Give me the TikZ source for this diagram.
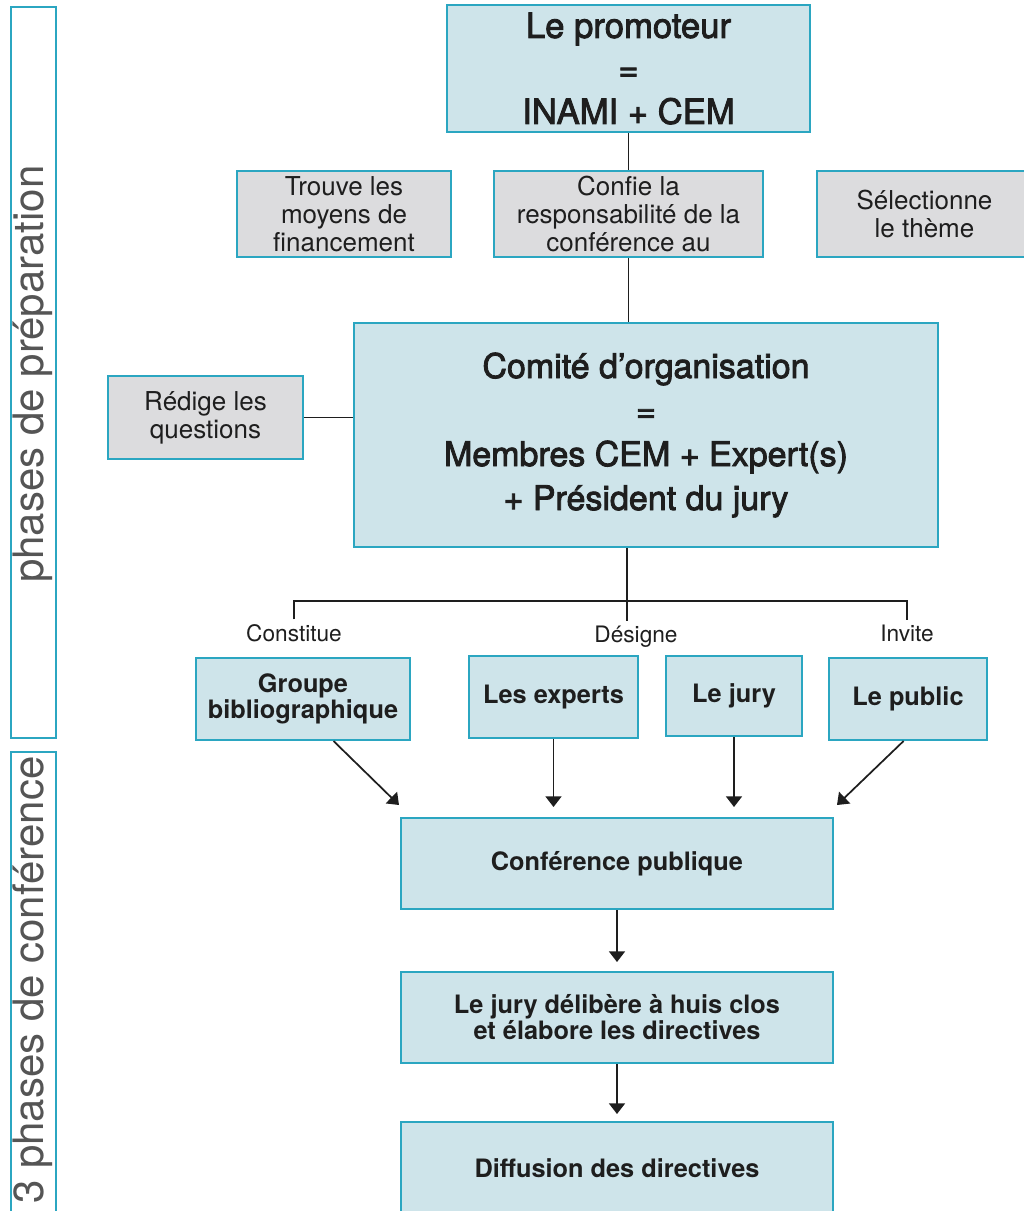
\documentclass[tikz,border=0pt]{standalone}
\usepackage{fontspec}
\setmainfont{TeX Gyre Heros}
\newfontfamily\cemmedium[FakeBold=2.5]{TeX Gyre Heros}
\usetikzlibrary{arrows.meta,calc}

\definecolor{cemblue}{RGB}{206,228,234}
\definecolor{cemgray}{RGB}{220,220,222}
\definecolor{cemcyan}{RGB}{43,166,193}
\definecolor{cemtext}{RGB}{30,30,30}
\definecolor{cemphase}{RGB}{85,85,85}

\newcommand\cemtitle{\cemmedium\fontsize{26}{32.25}\selectfont}
\newcommand\cemcomite{\cemmedium\fontsize{25.5}{33}\selectfont}
\newcommand\cemnote{\fontsize{19.5}{21}\selectfont}
\newcommand\cemstep{\bfseries\fontsize{19}{17.5}\selectfont}

\tikzset{every picture/.style={line width=0.75pt}}
\tikzset{
  bluebox/.style={draw=cemcyan, fill=cemblue, line width=1.5pt, align=center, text=cemtext, inner sep=0pt},
  graybox/.style={bluebox, fill=cemgray, font=\cemnote},
  phasebox/.style={draw=cemcyan, line width=1.5pt, inner sep=0pt},
  conn/.style={draw=cemtext, line width=1.2pt},
  arr/.style={conn, line width=1.3pt, -{Triangle[width=12pt,length=8pt]}},
  verb/.style={text=cemtext, font=\fontsize{17}{20}\selectfont},
  phaselabel/.style={text=cemphase, font=\fontsize{31.5}{36}\selectfont, inner sep=0pt, rotate=90, anchor=base east}
}

\begin{document}
\begin{tikzpicture}[x=0.75pt,y=0.75pt,yscale=-1,xscale=1]
\useasboundingbox (0,0) rectangle (1024,1211);
\clip (0,0) rectangle (1024,1211);

%Phases
\node[phasebox, minimum width=33.75pt, minimum height=548.25pt] (phaseprep) at (33.5,372.5) {};
\node[phasebox, minimum width=33.75pt, minimum height=351pt] (phaseconf) at (33.5,986) {};
\node[phaselabel] (lblprep) at (43,165) {phases de préparation};
\node[phaselabel] (lblconf) at (43,756) {3 phases de conférence};

%Promoteur and its tasks
\node[bluebox, font=\cemtitle, minimum width=272.25pt, minimum height=95.25pt] (promoteur) at (628.5,68.5) {Le promoteur\\=\\INAMI + CEM};
\node[graybox, minimum width=160.5pt, minimum height=64.5pt] (trouve) at (344,214) {Trouve les\\moyens de\\financement};
\node[graybox, minimum width=201.75pt, minimum height=64.5pt] (confie) at (628.5,214) {Confie la\\responsabilité de la\\conférence au};
\node[graybox, minimum width=161.25pt, minimum height=64.5pt] (selection) at (924.5,214) {Sélectionne\\le thème};

%Comite
\node[bluebox, font=\cemcomite, minimum width=438pt, minimum height=168pt] (comite) at (646,435) {Comité d’organisation\\=\\Membres CEM + Expert(s)\\+ Président du jury};
\node[graybox, minimum width=146.25pt, minimum height=62.25pt] (redige) at (205.5,417.5) {Rédige les\\questions};

\draw[conn] (promoteur.south) -- (confie.north);
\draw[conn] (confie.south) -- (confie.south |- comite.north);
\draw[conn] (redige.east) -- (redige.east -| comite.west);

% Text Node
\node[verb] (constitue) at (294,633) {Constitue};
\node[verb] (designe) at (636,637) {Désigne};
\node[verb] (invite) at (907,633) {Invite};

\coordinate (fork) at (627,601);
\draw[conn] (comite.south -| fork) -- (fork |- designe.north);
\draw[conn] (constitue.north) |- (fork) -| (invite.north);

%Actors
\node[bluebox, font=\cemstep, minimum width=160.5pt, minimum height=61.5pt] (groupe) at (303,699) {Groupe\\bibliographique};
\node[bluebox, font=\cemstep, minimum width=126.75pt, minimum height=61.5pt] (experts) at (553.5,697) {Les experts};
\node[bluebox, font=\cemstep, minimum width=102pt, minimum height=60pt] (jury) at (734,696) {Le jury};
\node[bluebox, font=\cemstep, minimum width=118.5pt, minimum height=61.5pt] (public) at (908,699) {Le public};

%Conference
\node[bluebox, font=\cemstep, minimum width=324pt, minimum height=68.25pt] (conference) at (617,863.5) {Conférence publique};
\node[bluebox, font=\cemstep, minimum width=324pt, minimum height=68.25pt] (delibere) at (617,1017.5) {Le jury délibère à huis clos\\et élabore les directives};
\node[bluebox, font=\cemstep, minimum width=324pt, minimum height=69pt] (diffusion) at (617,1168) {Diffusion des directives};

\draw[arr] (groupe.-54) -- ($(conference.north west)+(-1,-12)$);
\draw[arr, shorten >=7.5pt] (experts.south) -- (experts.south |- conference.north);
\draw[arr, shorten >=7.5pt] (jury.south) -- (jury.south |- conference.north);
\draw[arr] (public.-96) -- ($(conference.north east)+(3,-12)$);
\draw[arr, shorten >=6.75pt] (conference.south) -- (delibere.north);
\draw[arr, shorten >=5.25pt] (delibere.south) -- (diffusion.north);

\end{tikzpicture}
\end{document}
